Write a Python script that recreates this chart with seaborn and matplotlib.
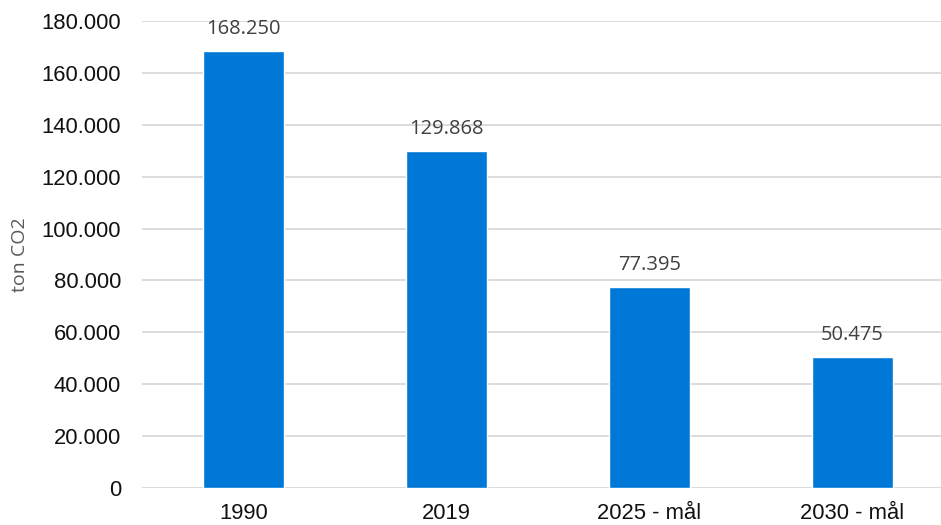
import matplotlib
matplotlib.use("Agg")
import matplotlib.pyplot as plt
import seaborn as sns
import pandas as pd
from matplotlib.ticker import FuncFormatter

# Emissions data (ton CO2)
categories = ["1990", "2019", "2025 - mål", "2030 - mål"]
values = [168250, 129868, 77395, 50475]
y_ticks = [0, 20000, 40000, 60000, 80000, 100000, 120000, 140000, 160000, 180000]

df = pd.DataFrame({"år": categories, "udledning": values})

sns.set_theme(style="white")
plt.rcParams["font.family"] = ["Liberation Sans", "DejaVu Sans"]

W, H, DPI = 941, 525, 100
fig = plt.figure(figsize=(W / DPI, H / DPI), dpi=DPI)
left, right, top, bottom = 142, 954, 21, 488
ax = fig.add_axes([left / W, 1 - bottom / H, (right - left) / W, (bottom - top) / H])

sns.barplot(data=df, x="år", y="udledning", color="#0078D7", saturation=1,
            width=0.4, ax=ax, zorder=3)

ax.set_ylim(0, 180000)
ax.set_xlim(-0.5, 3.5)
ax.set_yticks(y_ticks)
ax.yaxis.set_major_formatter(FuncFormatter(lambda v, _: f"{int(v):,}".replace(",", ".")))
ax.grid(axis="y", color="#d9d9d9", linewidth=1.3, zorder=0)
ax.grid(axis="x", visible=False)
for s in ax.spines.values():
    s.set_visible(False)
ax.tick_params(axis="y", length=0, pad=15, labelsize=15.8, labelcolor="#111111")
ax.tick_params(axis="x", length=0, pad=11, labelsize=15.8, labelcolor="#111111")
ax.set_xlabel("")
ax.set_ylabel("ton CO2", fontsize=14, color="#595959", family=["Open Sans", "DejaVu Sans"],
              labelpad=9)

for i, v in enumerate(values):
    ax.annotate(f"{v:,}".replace(",", "."), xy=(i, v), xytext=(0, 9),
                textcoords="offset points", ha="center", va="bottom",
                fontsize=14.5, color="#404040", family=["Open Sans", "DejaVu Sans"])

fig.savefig("out.png", dpi=DPI)
